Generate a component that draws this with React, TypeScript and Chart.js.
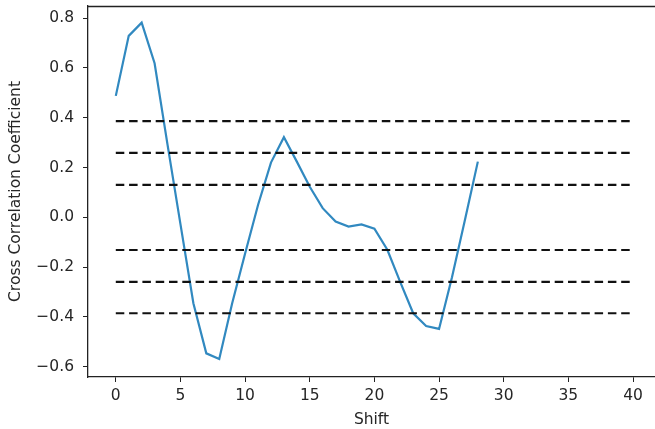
import React, { useEffect, useRef } from "react";
import { Chart, registerables } from "chart.js";

Chart.register(...registerables);

const shifts = [0, 1, 2, 3, 4, 5, 6, 7, 8, 9, 10, 11, 12, 13, 14, 15, 16, 17, 18, 19, 20, 21, 22, 23, 24, 25, 26, 27, 28];
const coefficients = [
  0.488, 0.729, 0.782, 0.619, 0.292, -0.027, -0.345, -0.546, -0.569, -0.345,
  -0.145, 0.05, 0.22, 0.322, 0.224, 0.123, 0.037, -0.017, -0.037, -0.028,
  -0.045, -0.13, -0.26, -0.385, -0.436, -0.448, -0.24, -0.01, 0.224,
];
const thresholds = [0.387, 0.259, 0.131, -0.131, -0.259, -0.385];
const thresholdSpan = [0, 40];
const xTicks = [0, 5, 10, 15, 20, 25, 30, 35, 40];
const yTicks = [-0.6, -0.4, -0.2, 0.0, 0.2, 0.4, 0.6, 0.8];

const FONT = "'DejaVu Sans', sans-serif";
const TXT = "#262626";

const frame = {
  id: "frame",
  afterDraw(chart: any) {
    const { ctx, chartArea } = chart;
    ctx.save();
    ctx.strokeStyle = "#222";
    ctx.lineWidth = 1.5;
    ctx.beginPath();
    ctx.moveTo(chartArea.left, chartArea.top + 0.5);
    ctx.lineTo(chartArea.right + 2, chartArea.top + 0.5);
    ctx.stroke();
    ctx.restore();
  },
};

export default function App() {
  const ref = useRef<HTMLCanvasElement>(null);
  useEffect(() => {
    const dashed = thresholds.map((t) => ({
      data: thresholdSpan.map((x) => ({ x, y: t })),
      borderColor: "#111",
      borderWidth: 2.2,
      borderDash: [8.5, 4.8],
      pointRadius: 0,
      fill: false,
      order: 0,
    }));
    const chart = new Chart(ref.current!, {
      type: "line",
      data: {
        datasets: [
          ...dashed,
          {
            data: shifts.map((x, i) => ({ x, y: coefficients[i] })),
            borderColor: "#3189c0",
            borderWidth: 2.2,
            pointRadius: 0,
            fill: false,
            tension: 0,
            order: 1,
          },
        ],
      },
      options: {
        responsive: false,
        animation: false,
        layout: { autoPadding: false, padding: { top: 6, right: 0, left: 0, bottom: 0 } },
        plugins: { legend: { display: false }, tooltip: { enabled: false } },
        scales: {
          x: {
            type: "linear",
            min: -2.15,
            max: 41.7,
            afterBuildTicks: (s: any) => {
              s.ticks = xTicks.map((v) => ({ value: v }));
            },
            afterFit: (s: any) => {
              s.height = 52;
              s.paddingLeft = 0;
              s.paddingRight = 0;
            },
            grid: { drawOnChartArea: false, drawTicks: true, tickLength: 5, tickColor: "#222" },
            border: { display: true, color: "#222", width: 1.3 },
            ticks: { font: { family: FONT, size: 15.5 }, color: TXT, padding: 5, maxRotation: 0 },
            title: { display: true, text: "Shift", font: { family: FONT, size: 15.5 }, color: TXT, padding: { top: 0, bottom: 0 } },
          },
          y: {
            type: "linear",
            min: -0.641,
            max: 0.849,
            afterBuildTicks: (s: any) => {
              s.ticks = yTicks.map((v) => ({ value: v }));
            },
            afterFit: (s: any) => {
              s.width = 88;
              s.paddingTop = 0;
              s.paddingBottom = 0;
            },
            grid: { drawOnChartArea: false, drawTicks: true, tickLength: 5, tickColor: "#222" },
            border: { display: true, color: "#222", width: 1.3 },
            ticks: {
              font: { family: FONT, size: 15.5 },
              color: TXT,
              padding: 9,
              callback: (v: any) => {
                const n = Number(v);
                const s = Math.abs(n).toFixed(1);
                return n < 0 ? "\u2212" + s : s;
              },
            },
            title: { display: true, text: "Cross Correlation Coefficient", font: { family: FONT, size: 15.5 }, color: TXT, padding: { top: 7, bottom: 0 } },
          },
        },
      },
      plugins: [frame],
    });
    return () => chart.destroy();
  }, []);
  return (
    <div style={{ position: "absolute", left: 0, top: 0, width: 655, height: 429 }}>
      <canvas ref={ref} width={655} height={429} />
    </div>
  );
}
